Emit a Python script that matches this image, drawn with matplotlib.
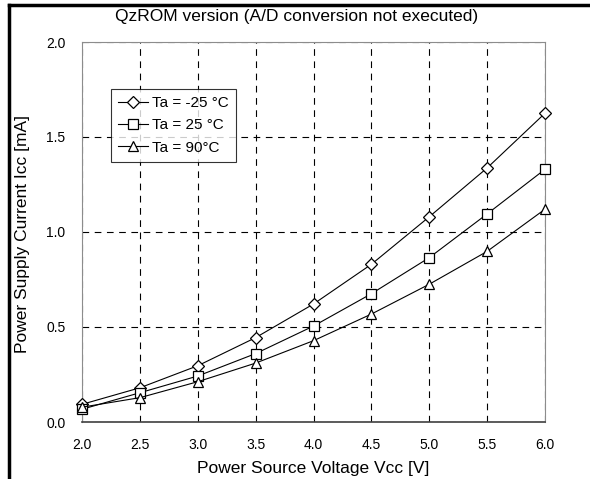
import numpy as np
import matplotlib.pyplot as plt
from matplotlib.lines import Line2D

plt.rcParams['font.family'] = ['Liberation Sans', 'DejaVu Sans']

vcc = [2.0, 2.5, 3.0, 3.5, 4.0, 4.5, 5.0, 5.5, 6.0]
icc_m25 = [0.093, 0.18, 0.296, 0.444, 0.621, 0.83, 1.08, 1.337, 1.625]
icc_25 = [0.067, 0.154, 0.242, 0.36, 0.505, 0.675, 0.865, 1.095, 1.33]
icc_90 = [0.078, 0.128, 0.212, 0.31, 0.428, 0.568, 0.725, 0.898, 1.12]
labels = ['Ta = -25 °C', 'Ta = 25 °C', 'Ta = 90°C']

W, H = 590, 479
fig = plt.figure(figsize=(5.9, 4.79), dpi=100)
ax = fig.add_axes([82/W, 1-422/H, (545-82)/W, (422-42)/H])

sizes = {'D': 6.5, 's': 7.5, '^': 7.5}
for y, m, lab in zip([icc_m25, icc_25, icc_90], ['D', 's', '^'], labels):
    ax.plot(vcc, y, color='black', lw=0.8, marker=m, ms=sizes[m],
            mfc='white', mec='black', mew=0.9, label=lab, clip_on=False, zorder=3)

ax.set_xlim(2.0, 6.0)
ax.set_ylim(0.0, 2.0)
ax.set_xticks(np.arange(2.0, 6.01, 0.5))
ax.set_yticks(np.arange(0.0, 2.01, 0.5))
ax.xaxis.set_major_formatter(plt.FormatStrFormatter('%.1f'))
ax.yaxis.set_major_formatter(plt.FormatStrFormatter('%.1f'))
ax.tick_params(length=0, labelsize=10)
ax.tick_params(axis='x', pad=11.5)
ax.tick_params(axis='y', pad=12)
ax.grid(True, color='black', ls=(0, (6, 5)), lw=0.8)
for s in ['top', 'right', 'left']:
    ax.spines[s].set_color('#8c8c8c')
ax.spines['bottom'].set_color('#404040')
ax.spines['bottom'].set_linewidth(1.2)

fig.text(313/W, 1-468/H, 'Power Source Voltage Vcc [V]', fontsize=12.5,
         ha='center', va='center')
fig.text(23/W, 1-234/H, 'Power Supply Current Icc [mA]', fontsize=12.5,
         ha='center', va='center', rotation=90)
fig.text(297/W, 1-17/H, 'QzROM version (A/D conversion not executed)',
         ha='center', va='center', fontsize=12.5)

leg = ax.legend(loc='upper left', bbox_to_anchor=((111-82)/463, (422-89)/380),
                fontsize=11, frameon=True, fancybox=False, edgecolor='black',
                handlelength=2.0, handletextpad=0.25, borderpad=0.45,
                labelspacing=0.55, borderaxespad=0)
leg.get_frame().set_linewidth(0.8)

# outer frame from the page
fig.add_artist(Line2D([9/W, 9/W], [0, 1-5/H], color='black', lw=2.5,
                      transform=fig.transFigure))
fig.add_artist(Line2D([9/W, 1], [1-5/H, 1-5/H], color='black', lw=2.5,
                      transform=fig.transFigure))

fig.savefig('out.png', dpi=100)
